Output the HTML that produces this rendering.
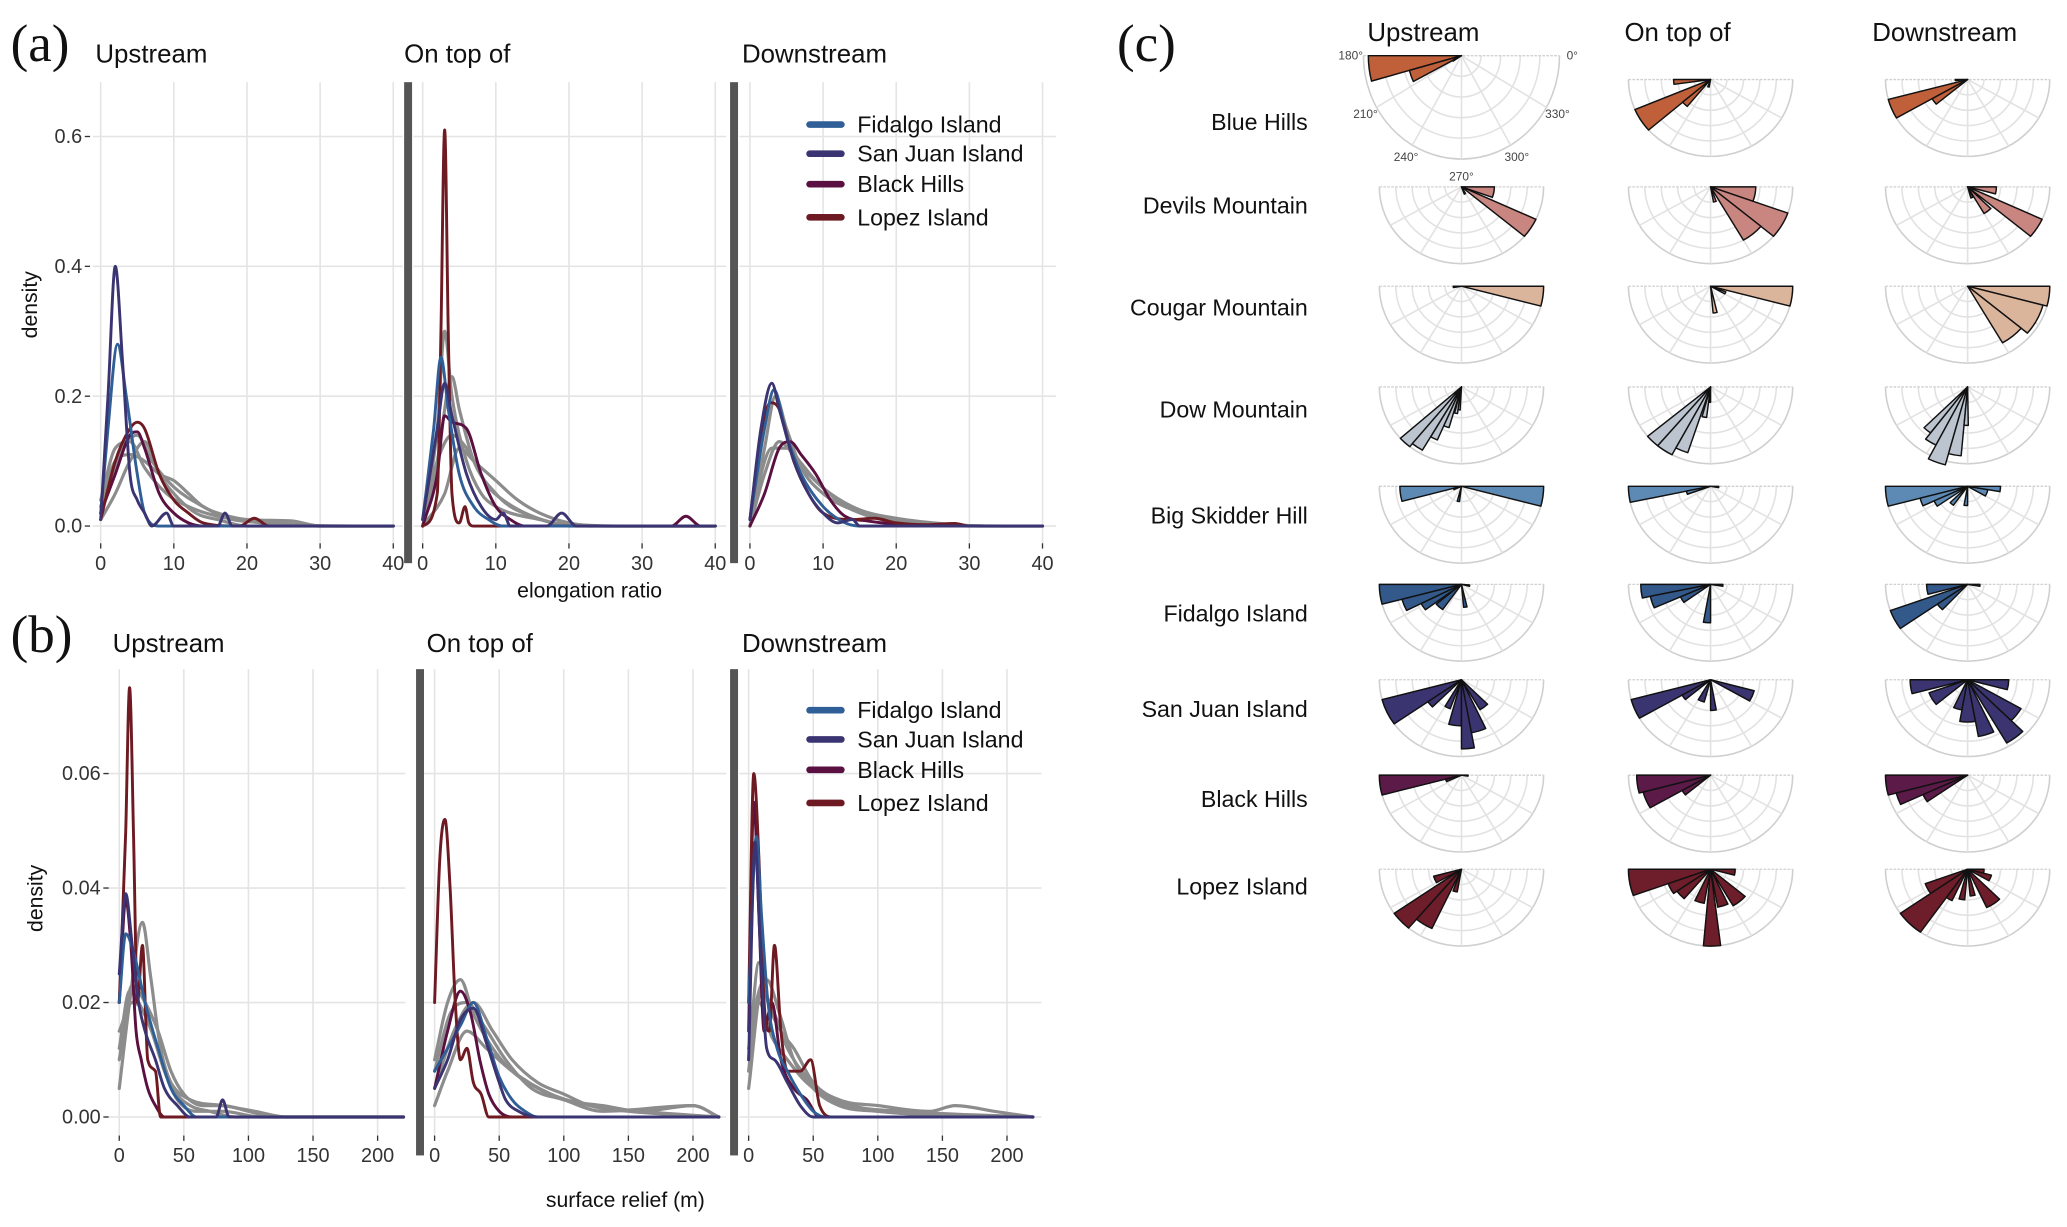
<!DOCTYPE html>
<html><head><meta charset="utf-8"><style>
html,body{margin:0;padding:0;background:#fff;}
svg{display:block;font-family:"Liberation Sans",sans-serif;}
</style></head><body>
<svg id="fig" xmlns="http://www.w3.org/2000/svg" width="2067" height="1227" viewBox="0 0 1560 926"></svg>
<script>
// ---------- DATA ----------
const seriesNames = ["Fidalgo Island","San Juan Island","Black Hills","Lopez Island"];
const seriesColors = ["#2f5f96","#3b3472","#5a1040","#6e1a22"];
const facetTitles = ["Upstream","On top of","Downstream"];
const aTicksX = [0,10,20,30,40];
const aTicksY = [0,0.2,0.4,0.6];
const aTickLabelsY = ["0.0","0.2","0.4","0.6"];
const bTicksX = [0,50,100,150,200];
const bTicksY = [0,0.02,0.04,0.06];
const bTickLabelsY = ["0.00","0.02","0.04","0.06"];
// panel (a) elongation ratio densities: [x,y,...] flattened pairs; order Fidalgo, SanJuan, BlackHills, Lopez, then grays
const aUp = [
[0,0.02,1,0.15,2.3,0.28,3.5,0.2,5,0.08,6,0.02,8,0,40,0],
[0,0.01,1,0.2,2,0.40,3,0.25,4,0.08,5,0.04,6,0.02,7,0,9,0.02,10,0,16,0,17,0.02,18,0,40,0],
[0,0.02,2,0.08,4,0.14,5,0.145,6,0.12,8,0.05,10,0.02,12,0.005,14,0,40,0],
[0,0.01,2,0.1,4,0.15,5,0.16,6,0.15,8,0.08,10,0.04,12,0.02,14,0.005,19,0,21,0.012,23,0,40,0]];
const aUpGray = [
[0,0.03,2,0.1,4,0.11,6,0.1,8,0.08,10,0.07,12,0.05,14,0.03,16,0.02,20,0.01,26,0.008,30,0,40,0],
[0,0.02,3,0.12,5,0.14,7,0.1,10,0.06,14,0.03,18,0.01,24,0.005,30,0,40,0],
[0,0.01,2,0.05,4,0.1,6,0.13,8,0.08,10,0.05,13,0.02,16,0.01,20,0,40,0],
[0,0.04,2,0.12,4,0.13,6,0.09,9,0.05,12,0.03,16,0.015,22,0.005,35,0,40,0]];
const aTop = [
[0,0.01,1.5,0.15,2.5,0.26,3.5,0.18,5,0.08,7,0.03,9,0.01,11,0,40,0],
[0,0.01,2,0.15,3,0.22,4,0.17,6,0.08,8,0.03,10,0.01,11,0.02,12,0,17,0,19,0.02,21,0,40,0],
[0,0,2,0.08,3,0.17,4,0.16,6,0.15,8,0.08,10,0.03,12,0.01,14,0,34,0,36,0.015,38,0,40,0],
[0,0,2,0.05,2.5,0.3,3,0.61,3.5,0.3,4,0.05,5,0.005,5.8,0.03,6.3,0.005,7,0,40,0]];
const aTopGray = [
[0,0.01,2,0.15,3,0.30,4,0.2,6,0.1,8,0.05,10,0.03,12,0.02,16,0.01,20,0,40,0],
[0,0,2,0.1,4,0.23,5,0.18,7,0.1,10,0.05,12,0.03,15,0.015,18,0.005,25,0,40,0],
[0,0,3,0.05,5,0.12,7,0.1,10,0.07,13,0.04,16,0.02,20,0.005,25,0,40,0],
[0,0.01,2,0.1,4,0.14,6,0.12,9,0.06,11,0.04,14,0.02,18,0.005,30,0,40,0]];
const aDown = [
[0,0.01,2,0.15,3.3,0.21,5,0.14,7,0.08,10,0.03,13,0.005,15,0,40,0],
[0,0.01,1.5,0.15,3,0.22,4,0.18,6,0.1,8,0.05,10,0.02,12,0.005,14,0.01,15,0,40,0],
[0,0,2,0.05,4,0.12,5.5,0.13,7,0.11,9,0.08,11,0.04,13,0.015,16,0.008,20,0.003,30,0,40,0],
[0,0.01,1.5,0.14,2.8,0.19,4,0.18,6,0.1,8,0.05,10,0.02,14,0.01,17,0.012,20,0.005,24,0.002,28,0.004,30,0,40,0]];
const aDownGray = [
[0,0,2,0.12,3.5,0.2,5,0.15,7,0.09,10,0.05,14,0.025,18,0.01,25,0.003,35,0,40,0],
[0,0.01,3,0.12,5,0.12,8,0.08,11,0.05,15,0.025,20,0.012,25,0.005,32,0,40,0],
[0,0,2,0.08,4,0.13,6,0.11,9,0.07,12,0.04,16,0.02,22,0.008,30,0,40,0]];
// panel (b) surface relief densities
const bUp = [
[0,0.02,5,0.032,12,0.028,20,0.02,30,0.012,40,0.005,50,0.002,60,0,220,0],
[0,0.025,5,0.039,10,0.03,15,0.02,20,0.015,28,0.01,35,0.005,45,0.002,55,0,75,0,80,0.003,85,0,220,0],
[0,0.02,5,0.038,9,0.03,13,0.015,17,0.01,22,0.005,28,0.002,35,0,220,0],
[0,0.02,5,0.05,8,0.075,11,0.05,14,0.02,18,0.03,22,0.01,28,0.008,32,0,220,0]];
const bUpGray = [
[0,0.005,8,0.02,18,0.034,24,0.025,32,0.012,42,0.005,55,0.002,70,0.001,90,0,220,0],
[0,0.01,10,0.023,20,0.02,30,0.015,40,0.008,50,0.004,65,0.002,80,0.002,100,0.001,120,0,220,0],
[0,0.012,8,0.022,15,0.02,25,0.015,35,0.008,45,0.003,60,0.001,80,0.001,110,0,220,0],
[0,0.015,10,0.02,20,0.018,30,0.012,40,0.006,55,0.003,80,0.002,105,0.001,130,0,220,0]];
const bTop = [
[0,0.008,10,0.012,20,0.016,30,0.02,40,0.014,50,0.007,60,0.003,70,0.001,80,0,220,0],
[0,0.005,10,0.01,20,0.017,30,0.019,40,0.013,50,0.006,55,0.003,65,0.001,80,0,220,0],
[0,0.005,10,0.015,20,0.022,28,0.018,35,0.01,42,0.004,50,0.001,60,0,220,0],
[0,0.02,4,0.045,8,0.052,12,0.04,16,0.02,20,0.01,25,0.012,30,0.006,36,0.004,42,0,220,0]];
const bTopGray = [
[0,0.01,10,0.02,20,0.024,30,0.018,45,0.012,60,0.008,80,0.005,100,0.003,130,0.002,160,0.001,200,0.002,220,0],
[0,0.005,15,0.015,30,0.02,45,0.015,60,0.01,80,0.006,100,0.004,120,0.002,150,0.001,220,0],
[0,0.002,10,0.008,25,0.015,40,0.012,60,0.008,90,0.004,120,0.002,160,0.001,220,0],
[0,0.008,12,0.018,25,0.02,38,0.016,55,0.01,75,0.005,100,0.003,130,0.001,200,0.002,220,0]];
const bDown = [
[0,0.02,6,0.049,10,0.035,15,0.02,22,0.012,30,0.008,40,0.004,50,0.001,60,0,220,0],
[0,0.01,5,0.048,9,0.03,14,0.012,20,0.01,30,0.006,40,0.002,50,0,220,0],
[0,0.015,4,0.055,8,0.035,12,0.015,18,0.02,25,0.01,35,0.005,45,0.003,55,0,220,0],
[0,0.02,4,0.06,8,0.045,12,0.02,16,0.015,20,0.03,25,0.015,30,0.008,40,0.008,48,0.01,55,0.002,65,0,220,0]];
const bDownGray = [
[0,0.01,8,0.027,15,0.02,25,0.015,35,0.012,50,0.006,70,0.003,100,0.002,140,0.001,160,0.002,190,0.001,220,0],
[0,0.005,10,0.022,20,0.018,30,0.012,45,0.007,60,0.004,80,0.002,120,0.001,220,0],
[0,0.008,6,0.02,14,0.024,24,0.018,35,0.01,50,0.005,70,0.002,100,0.001,220,0],
[0,0.012,8,0.02,18,0.014,30,0.01,45,0.006,65,0.003,100,0.001,220,0]];
// panel (c) rose diagrams: [startDeg, widthDeg, relativeLength]
const roseSites = ["Blue Hills","Devils Mountain","Cougar Mountain","Dow Mountain","Big Skidder Hill","Fidalgo Island","San Juan Island","Black Hills","Lopez Island"];
const roseColors = ["#c0603a","#c98580","#dbb49c","#bcc4cf","#5d8ab4","#33588a","#3a3570","#5b1a48","#6e1d2a"];
const roseUp = [
[[180,15,0.95],[195,12,0.55],[207,5,0.1]],
[[340,20,0.4],[320,15,1.0],[290,10,0.1]],
[[345,15,1.0],[180,10,0.1]],
[[222,9,1.0],[231,9,0.95],[240,7,0.75],[247,7,0.55],[256,6,0.35],[262,5,0.3]],
[[345,15,1.0],[180,15,0.75],[255,8,0.2],[195,10,0.1]],
[[180,15,1.0],[195,12,0.75],[207,10,0.55],[220,15,0.4],[345,10,0.1],[275,8,0.3]],
[[195,20,1.0],[215,10,0.5],[240,10,0.4],[255,15,0.6],[270,10,0.9],[280,15,0.7],[300,15,0.45]],
[[180,15,1.0],[195,10,0.2],[350,10,0.08]],
[[215,15,1.0],[230,15,0.85],[250,10,0.3],[195,15,0.35]]];
const roseTop = [
[[180,8,0.45],[203,18,1.0],[221,10,0.45],[250,10,0.1]],
[[340,20,0.55],[320,20,1.0],[300,20,0.8],[280,10,0.2]],
[[345,15,1.0],[330,8,0.2],[275,8,0.35]],
[[220,10,1.0],[230,12,1.0],[242,10,0.9],[255,8,0.4],[265,5,0.2]],
[[180,12,1.0],[192,8,0.3],[350,10,0.1]],
[[180,12,0.85],[192,12,0.75],[204,12,0.4],[260,10,0.5],[350,10,0.15]],
[[195,15,1.0],[210,10,0.4],[240,15,0.3],[270,10,0.4],[330,15,0.55]],
[[180,15,0.9],[195,15,0.85],[210,10,0.4]],
[[180,20,1.0],[200,15,0.55],[215,15,0.5],[245,15,0.45],[265,12,1.0],[280,15,0.5],[300,20,0.55],[345,15,0.3]]];
const roseDown = [
[[180,5,0.15],[195,15,1.0],[210,10,0.5]],
[[345,15,0.35],[320,15,1.0],[300,15,0.4],[285,10,0.15]],
[[345,15,1.0],[320,25,0.95],[300,20,0.85]],
[[225,8,0.75],[233,10,0.85],[243,12,1.05],[255,10,0.9],[265,6,0.5]],
[[180,15,1.0],[195,10,0.6],[205,10,0.45],[225,10,0.3],[260,10,0.25],[330,20,0.25],[350,10,0.4]],
[[180,15,0.5],[200,15,1.0],[215,12,0.45],[350,10,0.15]],
[[180,15,0.7],[200,20,0.5],[245,15,0.4],[260,20,0.55],[280,15,0.75],[300,15,0.95],[315,15,0.75],[345,15,0.5]],
[[180,15,1.0],[195,10,0.9],[205,10,0.6]],
[[200,15,0.55],[215,20,1.0],[235,10,0.45],[255,10,0.4],[275,10,0.35],[295,20,0.55],[330,15,0.3],[345,15,0.2]]];
const roseAngleLabels = ["180°","210°","240°","270°","300°","330°","0°"];

// ---------- DRAWING ----------
const NS="http://www.w3.org/2000/svg";
const svg=document.getElementById('fig');
function mk(tag,parent){const e=document.createElementNS(NS,tag);parent.appendChild(e);return e;}
function attrs(e,o){for(const k in o)e.setAttribute(k,o[k]);return e;}
function txt(parent,s,x,y,size,anchor,extra){
  const t=mk('text',parent);attrs(t,{x:x,y:y,'font-size':size,'text-anchor':anchor||'start',fill:'#111'});
  if(extra)attrs(t,extra);t.textContent=s;return t;}
// monotone cubic path through screen points
function monoPath(xs,ys){
  const n=xs.length;if(n<2)return '';
  const d=[],m=new Array(n);
  for(let i=0;i<n-1;i++)d.push((ys[i+1]-ys[i])/(xs[i+1]-xs[i]));
  m[0]=d[0];m[n-1]=d[n-2];
  for(let i=1;i<n-1;i++){m[i]=(d[i-1]*d[i]<=0)?0:(d[i-1]+d[i])/2;}
  for(let i=0;i<n-1;i++){if(d[i]===0){m[i]=0;m[i+1]=0;continue;}
    const a=m[i]/d[i],b=m[i+1]/d[i],s=a*a+b*b;
    if(s>9){const t=3/Math.sqrt(s);m[i]=t*a*d[i];m[i+1]=t*b*d[i];}}
  let p='M'+xs[0].toFixed(1)+','+ys[0].toFixed(1);
  for(let i=0;i<n-1;i++){const h=(xs[i+1]-xs[i])/3;
    p+='C'+(xs[i]+h).toFixed(1)+','+(ys[i]+m[i]*h).toFixed(1)+' '+(xs[i+1]-h).toFixed(1)+','+(ys[i+1]-m[i+1]*h).toFixed(1)+' '+xs[i+1].toFixed(1)+','+ys[i+1].toFixed(1);}
  return p;}

function densityPanel(cfg){
  const g=mk('g',svg);
  
  
  const sy=v=>cfg.y0-(v-0)*cfg.yPer;
  cfg.facets.forEach((f,fi)=>{
    const sx=v=>f.x0+v*cfg.xPer;
    const fg=mk('g',g);
    
    
    cfg.ticksY.forEach(v=>{const l=mk('line',fg);attrs(l,{x1:f.left,x2:f.right,y1:sy(v),y2:sy(v),stroke:'#e4e4e4','stroke-width':1.2});
      
      });
    cfg.ticksX.forEach(v=>{const l=mk('line',fg);attrs(l,{x1:sx(v),x2:sx(v),y1:cfg.top,y2:cfg.bottom,stroke:'#e4e4e4','stroke-width':1.2});
      
      
      const t=txt(fg,String(v),sx(v),cfg.tickY,15,'middle',{fill:'#333'});
      
      
      const tk=mk('line',fg);attrs(tk,{x1:sx(v),x2:sx(v),y1:cfg.bottom,y2:cfg.bottom+4,stroke:'#333','stroke-width':1});
      
      });
    const tt=txt(fg,facetTitles[fi],f.titleX,cfg.titleY,19.5,'start');
    
    
    const draw=(arr,color,w,nm)=>{
      const xs=[],ys=[];for(let i=0;i<arr.length;i+=2){xs.push(sx(arr[i]));ys.push(sy(arr[i+1]));}
      const p=mk('path',fg);attrs(p,{d:monoPath(xs,ys),fill:'none',stroke:color,'stroke-width':w,'stroke-linejoin':'round','stroke-linecap':'round'});
      
      };
    f.gray.forEach(a=>draw(a,'#8c8c8c',2.4,'density-line-other-site'));
    [2,3,0,1].forEach(i=>draw(f.col[i],seriesColors[i],2.2,'density-line-'+seriesNames[i].toLowerCase().replace(/ /g,'-')));
  });
  cfg.seps.forEach(x=>{const r=mk('rect',g);attrs(r,{x:x-3,y:cfg.top,width:6,height:cfg.bottom+15-cfg.top,fill:'#555'});
    
    });
  cfg.ticksY.forEach((v,i)=>{const t=txt(g,cfg.labelsY[i],cfg.yLabX,sy(v)+5,15,'end',{fill:'#333'});
    
    
    const tk=mk('line',g);attrs(tk,{x1:cfg.yLabX+2,x2:cfg.yLabX+6,y1:sy(v),y2:sy(v),stroke:'#333','stroke-width':1});
    
    });
  const yt=txt(g,'density',0,0,16,'middle',{transform:`translate(${cfg.yTitleX},${cfg.yTitleY}) rotate(-90)`});
  
  
  const xt=txt(g,cfg.xTitle,cfg.xTitleX,cfg.xTitleY,16,'middle');
  
  
  const pl=txt(g,cfg.letter,8,cfg.letterY,40,'start',{'font-family':'"Liberation Serif",serif'});
  
  
  const lg=mk('g',g);
  
  
  seriesNames.forEach((n,i)=>{const y=cfg.legY[i];
    const l=mk('line',lg);attrs(l,{x1:cfg.legX,x2:cfg.legX+24,y1:y,y2:y,stroke:seriesColors[i],'stroke-width':5,'stroke-linecap':'round'});
    
    
    const t=txt(lg,n,cfg.legX+36,y+6,17.5,'start');
    
    });
}

densityPanel({name:'panel-a-elongation',letter:'(a)',letterY:46,titleY:47,top:62,bottom:410,y0:397,yPer:490,xPer:5.52,
  ticksX:aTicksX,ticksY:aTicksY,labelsY:aTickLabelsY,tickY:430,yLabX:62,yTitleX:28,yTitleY:230,
  xTitle:'elongation ratio',xTitleX:445,xTitleY:451,seps:[308,554],legX:611,legY:[94,116,139,164],
  facets:[{x0:76,left:70,right:304,titleX:72,col:aUp,gray:aUpGray},
          {x0:319,left:312,right:548,titleX:305,col:aTop,gray:aTopGray},
          {x0:566,left:558,right:797,titleX:560,col:aDown,gray:aDownGray}]});
densityPanel({name:'panel-b-surface-relief',letter:'(b)',letterY:492,titleY:492,top:505,bottom:857,y0:843,yPer:4320,xPer:0.975,
  ticksX:bTicksX,ticksY:bTicksY,labelsY:bTickLabelsY,tickY:877,yLabX:76,yTitleX:32,yTitleY:678,
  xTitle:'surface relief (m)',xTitleX:472,xTitleY:911,seps:[317,554],legX:611,legY:[536,558,581,606],
  facets:[{x0:90,left:80,right:306,titleX:85,col:bUp,gray:bUpGray},
          {x0:328,left:320,right:548,titleX:322,col:bTop,gray:bTopGray},
          {x0:565,left:558,right:786,titleX:560,col:bDown,gray:bDownGray}]});

// ---------- panel (c) roses ----------
const gc=mk('g',svg);


const cl=txt(gc,'(c)',843,46,40,'start',{'font-family':'"Liberation Serif",serif'});


const colX=[1103,1291,1485];
const colHeadX=[1032,1226,1413];
facetTitles.forEach((t,i)=>{const e=txt(gc,t,colHeadX[i],31,19.5,'start');
  
  });
const rowY=[60,141,216,292,367,441,513,585,656];
const labelY=[98,161,238,315,395,469,541,609,675];
const roseSets=[roseUp,roseTop,roseDown];
function rose(parent,cx,cy,rx,ry,bins,color,labels){
  const g=mk('g',parent);
  
  
  const P=(a,r)=>[cx+rx*r*Math.cos(a*Math.PI/180),cy-ry*r*Math.sin(a*Math.PI/180)];
  [0.2,0.4,0.6,0.8,1.0].forEach(r=>{const a=P(180,r),b=P(360,r);
    const p=mk('path',g);attrs(p,{d:`M${a[0]},${a[1]}A${rx*r},${ry*r} 0 0 0 ${b[0]},${b[1]}`,fill:'none',stroke:r==1?'#cfcfcf':'#e2e2e2','stroke-width':1.2});
    
    });
  [210,240,270,300,330].forEach(a=>{const b=P(a,1);const l=mk('line',g);attrs(l,{x1:cx,y1:cy,x2:b[0],y2:b[1],stroke:'#e2e2e2','stroke-width':1.2});
    
    });
  const top=mk('line',g);attrs(top,{x1:cx-rx,x2:cx+rx,y1:cy,y2:cy,stroke:'#d0d0d0','stroke-width':1,'stroke-dasharray':'2,1'});
  
  
  bins.forEach(b=>{const s=P(b[0],b[2]),e=P(b[0]+b[1],b[2]);
    const p=mk('path',g);attrs(p,{d:`M${cx},${cy}L${s[0].toFixed(1)},${s[1].toFixed(1)}A${(rx*b[2]).toFixed(1)},${(ry*b[2]).toFixed(1)} 0 0 0 ${e[0].toFixed(1)},${e[1].toFixed(1)}Z`,fill:color,stroke:'#111','stroke-width':1.1,'stroke-linejoin':'round'});
    
    });
  if(labels){[180,210,240,270,300,330,360].forEach((a,i)=>{const q=P(a,1.13);
    const t=txt(g,roseAngleLabels[i],q[0],q[1]+(a==270?6:3),9,'middle',{fill:'#444'});
    
    });}
}
roseSites.forEach((s,ri)=>{
  const t=txt(gc,s,987,labelY[ri],17.5,'end');
  
  
  roseSets.forEach((set,ci)=>{
    if(ri===0&&ci===0) rose(gc,colX[0],42,74,78,set[ri],roseColors[ri],true);
    else rose(gc,colX[ci],rowY[ri],62,58,set[ri],roseColors[ri],false);
  });
});
</script>
</body></html>
